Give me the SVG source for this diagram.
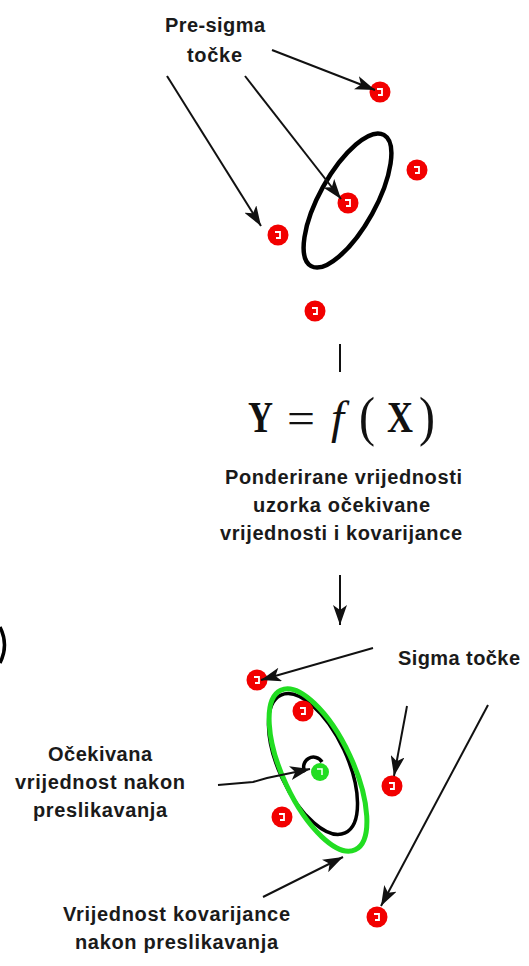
<svg xmlns="http://www.w3.org/2000/svg" xmlns:xlink="http://www.w3.org/1999/xlink" width="529" height="966" viewBox="0 0 529 966">
<style>
.lbl{font-family:"Liberation Sans",Arial,sans-serif;font-weight:bold;font-size:20px;fill:#1a1a1a}
.math{font-family:"Liberation Serif","Times New Roman",serif;fill:#111}
.con{stroke:#111;stroke-width:2;fill:none}
.ell{fill:none}
</style>
<defs>
<marker id="ah" markerUnits="userSpaceOnUse" markerWidth="22" markerHeight="14" refX="20" refY="7" orient="auto">
<path d="M0,0 L20,7 L0,14 L5,7 Z" fill="#111"/>
</marker>
<g id="rdot">
<circle r="10.5" fill="#f20000"/>
<path d="M-3,-3 H2 V3 H-2" stroke="#fff" stroke-width="1.8" fill="none"/>
</g>
</defs>
<rect width="529" height="966" fill="#fff"/>

<g id="ellipse-top">
<ellipse cx="347.5" cy="200.5" rx="75" ry="28" transform="rotate(-61 347.5 200.5)" class="ell" stroke="#000" stroke-width="4.5"/>
</g>

<g id="presigma-points">
<use href="#rdot" transform="translate(380,92)"/>
<use href="#rdot" transform="translate(417,170)"/>
<use href="#rdot" transform="translate(348,203)"/>
<use href="#rdot" transform="translate(278,235)"/>
<use href="#rdot" transform="translate(315,311)"/>
</g>

<g id="label-presigma">
<text class="lbl" x="165" y="32" textLength="100" lengthAdjust="spacing">Pre-sigma</text>
<text class="lbl" x="187" y="62" textLength="55" lengthAdjust="spacing">točke</text>
</g>

<g id="equation">
<text class="math" x="248" y="432" font-size="44" font-weight="bold" textLength="25" lengthAdjust="spacingAndGlyphs">Y</text>
<text class="math" x="287" y="433" font-size="44" textLength="28" lengthAdjust="spacingAndGlyphs">=</text>
<text class="math" x="331" y="433" font-size="47" font-style="italic">f</text>
<text class="math" x="359" y="435" font-size="54" textLength="16" lengthAdjust="spacingAndGlyphs">(</text>
<text class="math" x="387" y="432" font-size="44" font-weight="bold" textLength="26" lengthAdjust="spacingAndGlyphs">X</text>
<text class="math" x="419" y="435" font-size="54" textLength="16" lengthAdjust="spacingAndGlyphs">)</text>
</g>

<g id="label-weighted">
<text class="lbl" x="225" y="484" textLength="237" lengthAdjust="spacing">Ponderirane vrijednosti</text>
<text class="lbl" x="253" y="512" textLength="177" lengthAdjust="spacing">uzorka očekivane</text>
<text class="lbl" x="220" y="540" textLength="242" lengthAdjust="spacing">vrijednosti i kovarijance</text>
</g>

<g id="ellipse-bottom">
<ellipse cx="313" cy="764" rx="76" ry="34" transform="rotate(65 313 764)" class="ell" stroke="#000" stroke-width="3.5"/>
<ellipse cx="318" cy="770" rx="88" ry="35" transform="rotate(65 318 770)" class="ell" stroke="#22dd22" stroke-width="5"/>
</g>

<g id="mean-point">
<path d="M305,772 A9,9 0 1 1 322,762" stroke="#000" stroke-width="3.5" fill="none"/>
<circle cx="320" cy="772" r="9" fill="#22dd22"/>
<path d="M317,769 H322 V775" stroke="#fff" stroke-width="1.5" fill="none"/>
</g>

<g id="sigma-points">
<use href="#rdot" transform="translate(257,680)"/>
<use href="#rdot" transform="translate(303,711)"/>
<use href="#rdot" transform="translate(392,786)"/>
<use href="#rdot" transform="translate(282,817)"/>
<use href="#rdot" transform="translate(377,917)"/>
</g>

<g id="label-sigma">
<text class="lbl" x="398" y="665" textLength="122" lengthAdjust="spacing">Sigma točke</text>
</g>

<g id="label-mean">
<text class="lbl" x="48" y="761" textLength="104" lengthAdjust="spacing">Očekivana</text>
<text class="lbl" x="15" y="789" textLength="170" lengthAdjust="spacing">vrijednost nakon</text>
<text class="lbl" x="33" y="817" textLength="134" lengthAdjust="spacing">preslikavanja</text>
</g>

<g id="label-cov">
<text class="lbl" x="63" y="921" textLength="227" lengthAdjust="spacing">Vrijednost kovarijance</text>
<text class="lbl" x="75" y="949" textLength="203" lengthAdjust="spacing">nakon preslikavanja</text>
</g>

<g id="edge-fragment">
<path d="M0,627 Q9,645 0,663" stroke="#000" stroke-width="3.5" fill="none"/>
</g>

<g id="connectors">
<line class="con" x1="272" y1="50" x2="375" y2="90" marker-end="url(#ah)"/>
<line class="con" x1="167" y1="76" x2="261" y2="226" marker-end="url(#ah)"/>
<line class="con" x1="245" y1="76" x2="341" y2="199" marker-end="url(#ah)"/>
<line class="con" x1="340" y1="344" x2="340" y2="372" stroke-width="3"/>
<line class="con" x1="340" y1="575" x2="340" y2="625" stroke-width="2.5" marker-end="url(#ah)"/>
<line class="con" x1="373" y1="648" x2="261" y2="680" marker-end="url(#ah)"/>
<line class="con" x1="407" y1="706" x2="394" y2="776" marker-end="url(#ah)"/>
<line class="con" x1="488" y1="705" x2="381" y2="906" marker-end="url(#ah)"/>
<path class="con" d="M218,785 L253,782 L267,778 L310,769" marker-end="url(#ah)"/>
<line class="con" x1="263" y1="897" x2="343" y2="857" marker-end="url(#ah)"/>
</g>
</svg>
